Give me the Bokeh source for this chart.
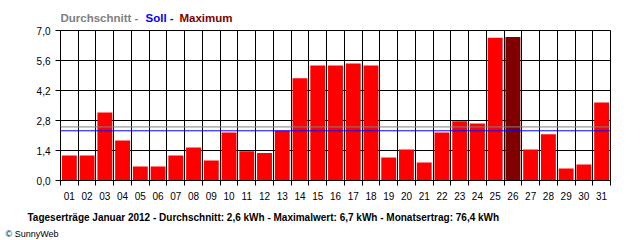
from bokeh.plotting import figure
from bokeh.layouts import column
from bokeh.models import (FixedTicker, CustomJSTickFormatter, Span, Label,
                          ColumnDataSource, Range1d, Title)
from bokeh.embed import file_html
from bokeh.resources import INLINE

# ---- data -------------------------------------------------------------
days = ["01", "02", "03", "04", "05", "06", "07", "08", "09", "10",
        "11", "12", "13", "14", "15", "16", "17", "18", "19", "20",
        "21", "22", "23", "24", "25", "26", "27", "28", "29", "30", "31"]
yield_kwh = [1.17, 1.17, 3.17, 1.87, 0.65, 0.65, 1.17, 1.54, 0.93, 2.24,
             1.37, 1.28, 2.32, 4.77, 5.37, 5.37, 5.46, 5.37, 1.07, 1.45,
             0.84, 2.24, 2.77, 2.66, 6.66, 6.70, 1.45, 2.16, 0.56, 0.75, 3.64]
average_kwh = 2.50
target_kwh = 2.32
y_ticks = [0.0, 1.4, 2.8, 4.2, 5.6, 7.0]
legend_parts = ["Durchschnitt -", "Soll -", "Maximum"]
title_text = ("Tageserträge Januar 2012 - Durchschnitt: 2,6 kWh - "
              "Maximalwert: 6,7 kWh - Monatsertrag: 76,4 kWh")
credit_text = "© SunnyWeb"

# ---- styling ----------------------------------------------------------
W = 640
LEFT, RIGHT = 60, 30
TOP_H, MAIN_H = 25, 215
RED, DARK_RED, GRAY, BLUE = "#ff0000", "#800000", "#808080", "#0000ff"
FONT = "Liberation Sans"

# ---- top strip: coloured legend text ----------------------------------
# (its frame is aligned with the chart frame, so data x == page x)
top = figure(width=W, height=TOP_H, output_backend="svg",
             toolbar_location=None, x_range=Range1d(LEFT, W - RIGHT),
             y_range=Range1d(TOP_H, 0),
             x_axis_location=None, y_axis_location=None,
             min_border_left=LEFT, min_border_right=RIGHT,
             min_border_top=0, min_border_bottom=0)
top.grid.visible = False
top.outline_line_color = None
top.background_fill_color = "white"
top.border_fill_color = "white"
for txt, col, xpos in zip(legend_parts, [GRAY, BLUE, DARK_RED], [60, 145, 179]):
    top.add_layout(Label(x=xpos, y=17, text=txt, text_color=col,
                         text_font=FONT, text_font_size="11.5px",
                         text_font_style="bold", text_baseline="middle",
                         text_align="left"))

# ---- main chart -------------------------------------------------------
max_idx = yield_kwh.index(max(yield_kwh))
xs = list(range(1, len(days) + 1))
colors = [DARK_RED if i == max_idx else RED for i in range(len(days))]
src = ColumnDataSource(dict(x=xs, y=yield_kwh, color=colors))

p = figure(width=W, height=MAIN_H, output_backend="svg", toolbar_location=None,
           x_range=Range1d(0.5, len(days) + 0.5), y_range=Range1d(0, 7),
           min_border_left=LEFT, min_border_right=RIGHT,
           min_border_top=5, min_border_bottom=60)
p.background_fill_color = "white"
p.border_fill_color = "white"
p.outline_line_color = "black"
p.outline_line_width = 1

boundaries = [i + 0.5 for i in range(0, len(days) + 1)]

xa = p.xaxis[0]
xa.ticker = FixedTicker(ticks=xs, minor_ticks=boundaries)
xa.major_label_overrides = {x: d for x, d in zip(xs, days)}
xa.major_tick_out = 0
xa.major_tick_in = 0
xa.minor_tick_out = 5
xa.minor_tick_in = 0
xa.minor_tick_line_color = "black"
xa.axis_line_color = "black"
xa.major_label_standoff = 6
xa.major_label_text_font = FONT
xa.major_label_text_font_size = "10px"
xa.major_label_text_color = "black"

ya = p.yaxis[0]
ya.ticker = FixedTicker(ticks=y_ticks, minor_ticks=[])
ya.formatter = CustomJSTickFormatter(code="return tick.toFixed(1).replace('.', ',');")
ya.major_tick_out = 5
ya.major_tick_in = 0
ya.minor_tick_out = 0
ya.minor_tick_in = 0
ya.major_tick_line_color = "black"
ya.axis_line_color = "black"
ya.major_label_standoff = 5
ya.major_label_text_font = FONT
ya.major_label_text_font_size = "10px"
ya.major_label_text_color = "black"

p.xgrid.ticker = FixedTicker(ticks=boundaries)
p.xgrid.grid_line_color = "black"
p.ygrid.grid_line_color = "black"

p.vbar(x="x", top="y", width=0.84, source=src, fill_color="color",
       line_color=None)

p.add_layout(Span(location=average_kwh, dimension="width",
                  line_color=GRAY, line_width=1))
p.add_layout(Span(location=target_kwh, dimension="width",
                  line_color=BLUE, line_width=1))

# ---- summary title and credit below the axis --------------------------
p.add_layout(Title(text=title_text, align="left", offset=27 - LEFT,
                   standoff=14, text_color="black", text_font=FONT,
                   text_font_size="10px", text_font_style="bold"), "below")
p.add_layout(Title(text=credit_text, align="left", offset=5 - LEFT,
                   standoff=-5, text_color="black", text_font=FONT,
                   text_font_size="9px", text_font_style="normal"), "below")

layout = column(top, p, spacing=0)
open("out.html", "w").write(file_html(layout, INLINE))
